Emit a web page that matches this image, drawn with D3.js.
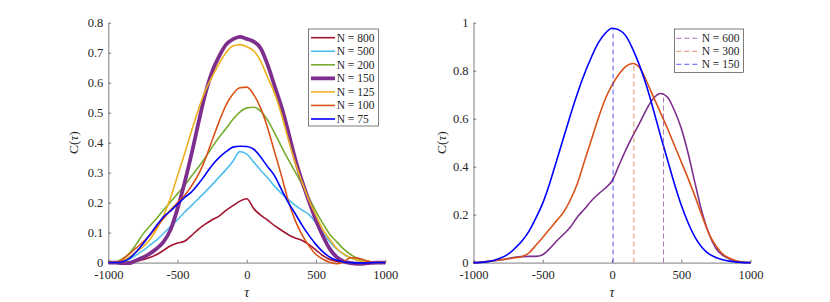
<!DOCTYPE html>
<html>
<head>
<meta charset="utf-8">
<script src="https://cdn.jsdelivr.net/npm/d3@7"></script>
<style>
  body { margin: 0; background: #fff; }
  svg { display: block; }
  svg text { font-family: "Liberation Serif", "Times New Roman", Times, "DejaVu Serif", serif; fill: #262626; }
</style>
</head>
<body>
<svg id="chart" width="830" height="302"></svg>
<script>
// shared tau grid
let tau = [-1000,-950,-900,-850,-800,-750,-700,-650,-600,-550,-500,-450,-400,-350,-300,-250,-200,-150,-100,-50,
    0,50,100,150,200,250,300,350,400,450,500,550,600,650,700,750,800,850,900,950,1000]

// left panel
let leftNames = ['N = 800', 'N = 500', 'N = 200', 'N = 150', 'N = 125', 'N = 100', 'N = 75']
let leftColors = ['#A2142F', '#4DBEEE', '#77AC30', '#7E2F8E', '#EDB120', '#D95319', '#0000FF']
let leftWidths = [1.6, 1.6, 1.6, 3.8, 1.6, 1.6, 1.6]

let n800 = [0,0,0,0.002,0.005,0.01,0.017,0.027,0.041,0.056,0.065,0.071,0.09,0.111,0.128,0.143,0.155,0.174,0.19,0.205,
    0.213,0.18,0.158,0.142,0.123,0.108,0.093,0.082,0.074,0.06,0.042,0.023,0.01,0.004,0.001,0,0,0,0,0,0]
let n500 = [0,0,0.002,0.01,0.025,0.04,0.058,0.076,0.098,0.12,0.143,0.168,0.19,0.213,0.236,0.26,0.285,0.31,0.338,0.37,
    0.362,0.335,0.308,0.283,0.255,0.231,0.21,0.191,0.175,0.16,0.132,0.099,0.07,0.045,0.028,0.016,0.008,0.003,0.001,0,0]
let n200 = [0,0.002,0.012,0.03,0.06,0.095,0.122,0.148,0.176,0.203,0.23,0.257,0.288,0.318,0.35,0.385,0.418,0.447,0.478,0.502,
    0.516,0.518,0.505,0.475,0.433,0.387,0.343,0.302,0.26,0.215,0.17,0.13,0.094,0.069,0.045,0.027,0.014,0.006,0.002,0,0]
let n150 = [0,0,-0.002,-0.002,0.007,0.017,0.03,0.047,0.07,0.11,0.18,0.265,0.36,0.464,0.562,0.637,0.688,0.727,0.745,0.753,
    0.746,0.737,0.715,0.66,0.59,0.52,0.435,0.345,0.27,0.203,0.14,0.088,0.045,0.018,0.004,-0.002,-0.004,-0.003,-0.001,0,0]
let n125 = [0,0,0.005,0.018,0.035,0.052,0.077,0.112,0.158,0.217,0.29,0.362,0.438,0.51,0.573,0.62,0.664,0.7,0.722,0.727,
    0.72,0.706,0.672,0.618,0.565,0.495,0.41,0.332,0.267,0.207,0.157,0.11,0.077,0.047,0.028,0.016,0.008,0.003,0.001,0,0]
let n100 = [0,0,0.01,0.028,0.048,0.068,0.091,0.12,0.148,0.176,0.2,0.223,0.255,0.293,0.345,0.408,0.47,0.525,0.562,0.583,
    0.585,0.56,0.515,0.45,0.37,0.29,0.205,0.14,0.092,0.055,0.027,0.011,0.001,-0.004,0.003,0.016,0.015,0.008,0.002,0,0]
let n75 = [0,0,0.003,0.013,0.035,0.062,0.093,0.125,0.153,0.172,0.195,0.217,0.235,0.262,0.293,0.325,0.35,0.37,0.385,0.388,
    0.387,0.378,0.352,0.32,0.29,0.244,0.2,0.163,0.124,0.09,0.06,0.036,0.018,0.008,0.002,0,-0.001,-0.001,0,0,0]
let leftSeries = [n800, n500, n200, n150, n125, n100, n75]

// right panel
let rightNames = ['N = 600', 'N = 300', 'N = 150']
let rightColors = ['#7E2F8E', '#D95319', '#0000FF']
let r600 = [0,0.001,0.004,0.008,0.012,0.017,0.022,0.025,0.026,0.026,0.033,0.058,0.09,0.118,0.148,0.19,0.222,0.257,0.285,0.31,
    0.34,0.405,0.47,0.528,0.582,0.64,0.685,0.705,0.69,0.635,0.56,0.455,0.33,0.21,0.12,0.06,0.03,0.015,0.005,0.001,0]
let r300 = [0,0.002,0.005,0.009,0.012,0.016,0.02,0.025,0.04,0.072,0.105,0.14,0.175,0.21,0.262,0.33,0.42,0.51,0.6,0.68,
    0.74,0.785,0.818,0.83,0.812,0.755,0.69,0.625,0.56,0.49,0.42,0.35,0.275,0.195,0.12,0.07,0.035,0.018,0.007,0.002,0]
let r150 = [0,0.001,0.004,0.01,0.02,0.035,0.06,0.09,0.13,0.185,0.248,0.33,0.425,0.52,0.615,0.705,0.785,0.855,0.915,0.955,
    0.977,0.97,0.945,0.89,0.82,0.735,0.635,0.53,0.43,0.33,0.24,0.165,0.105,0.063,0.036,0.021,0.012,0.006,0.002,0,0]
let rightSeries = [r600, r300, r150]
let peakTau = [372, 158, 8]
let peakC = [0.705, 0.83, 0.977]

let xTicks = [-1000, -500, 0, 500, 1000]
let leftYTicks = [0, 0.1, 0.2, 0.3, 0.4, 0.5, 0.6, 0.7, 0.8]
let rightYTicks = [0, 0.2, 0.4, 0.6, 0.8, 1]

let serif = '"Liberation Serif", "Times New Roman", Times, "DejaVu Serif", serif'
let svg = d3.select('#chart')

function draw_panel(left, yMax, yTicks, labelOffset){
    let top = 22.7, bottom = 262.6, width = 277
    let x = d3.scaleLinear().domain([-1000, 1000]).range([left, left + width])
    let y = d3.scaleLinear().domain([0, yMax]).range([bottom, top])

    let g = svg.append('g')

    let xAxis = g.append('g')
        .attr('transform', `translate(0,${bottom})`)
        .call(d3.axisBottom(x).tickValues(xTicks).tickFormat(d => d < 0 ? '-' + Math.abs(d) : String(d))
            .tickSizeInner(-2.8).tickSizeOuter(0).tickPadding(8))
    let yAxis = g.append('g')
        .attr('transform', `translate(${left},0)`)
        .call(d3.axisLeft(y).tickValues(yTicks).tickFormat(d => String(d)).tickSizeInner(-2.8).tickSizeOuter(0).tickPadding(5))

    for (let a of [xAxis, yAxis]) {
        a.attr('font-family', serif).attr('font-size', 12.5)
        a.select('.domain').attr('stroke', '#262626').attr('stroke-width', 0.6)
        a.selectAll('.tick line').attr('stroke', '#262626').attr('stroke-width', 0.6)
        a.selectAll('.tick text').attr('fill', '#262626')
    }

    g.append('text')
        .attr('x', left + width / 2)
        .attr('y', 296.5)
        .attr('text-anchor', 'middle')
        .attr('font-size', 14)
        .attr('font-style', 'italic')
        .text('τ')

    g.append('text')
        .attr('transform', `translate(${left - labelOffset},${(top + bottom) / 2}) rotate(-90)`)
        .attr('text-anchor', 'middle')
        .attr('font-size', 13.5)
        .html('C(<tspan font-style="italic">τ</tspan>)')

    return {g, x, y}
}

let line_for = (x, y) => d3.line()
    .x((d, i) => x(tau[i]))
    .y(d => y(d))
    .curve(d3.curveMonotoneX)

// left panel
let L = draw_panel(108.3, 0.8, leftYTicks, 30)
let leftLine = line_for(L.x, L.y)
L.g.selectAll('path.series')
    .data(leftSeries)
    .join('path')
        .attr('class', 'series')
        .attr('d', d => leftLine(d))
        .attr('fill', 'none')
        .attr('stroke', (d, i) => leftColors[i])
        .attr('stroke-width', (d, i) => leftWidths[i])
        .attr('stroke-linejoin', 'round')

let legL = L.g.append('g').attr('transform', 'translate(308.3,29)')
legL.append('rect').attr('width', 70).attr('height', 97).attr('fill', '#fff').attr('stroke', '#262626').attr('stroke-width', 0.6)
leftNames.forEach((name, i) => {
    let ly = 8.7 + i * 13.55
    legL.append('line').attr('x1', 2.7).attr('x2', 26.7).attr('y1', ly).attr('y2', ly)
        .attr('stroke', leftColors[i]).attr('stroke-width', leftWidths[i])
    legL.append('text').attr('x', 28.4).attr('y', ly).attr('dy', '0.35em').attr('font-size', 11.5).text(name)
})

// right panel
let R = draw_panel(473.5, 1, rightYTicks, 27.5)
let rightLine = line_for(R.x, R.y)
R.g.selectAll('path.series')
    .data(rightSeries)
    .join('path')
        .attr('class', 'series')
        .attr('d', d => rightLine(d))
        .attr('fill', 'none')
        .attr('stroke', (d, i) => rightColors[i])
        .attr('stroke-width', 1.6)
        .attr('stroke-linejoin', 'round')

R.g.selectAll('line.peak')
    .data(peakTau)
    .join('line')
        .attr('class', 'peak')
        .attr('x1', d => R.x(d)).attr('x2', d => R.x(d))
        .attr('y1', R.y(0)).attr('y2', (d, i) => R.y(peakC[i]))
        .attr('stroke', (d, i) => rightColors[i])
        .attr('stroke-opacity', 0.65)
        .attr('stroke-width', 1)
        .attr('stroke-dasharray', '5,3')

let legR = R.g.append('g').attr('transform', 'translate(674.3,29)')
legR.append('rect').attr('width', 69).attr('height', 43.3).attr('fill', '#fff').attr('stroke', '#262626').attr('stroke-width', 0.6)
rightNames.forEach((name, i) => {
    let ly = 9.3 + i * 13
    legR.append('line').attr('x1', 2).attr('x2', 26).attr('y1', ly).attr('y2', ly)
        .attr('stroke', rightColors[i]).attr('stroke-opacity', 0.65).attr('stroke-width', 1).attr('stroke-dasharray', '5,3')
    legR.append('text').attr('x', 27.4).attr('y', ly).attr('dy', '0.35em').attr('font-size', 11.5).text(name)
})
</script>
</body>
</html>
